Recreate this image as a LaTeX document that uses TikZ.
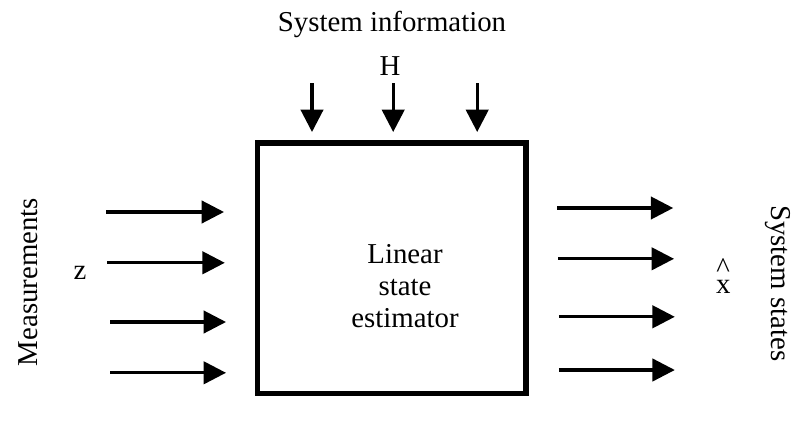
\documentclass[tikz,border=0pt]{standalone}
\usepackage{fontspec}
\setmainfont{Liberation Serif}
\usetikzlibrary{arrows.meta,positioning,calc}

\begin{document}
\begin{tikzpicture}[>={Triangle[length=0.56cm,width=0.56cm]},font=\fontsize{20.5}{24}\selectfont,
  flow/.style={->,line width=2.2pt}]
\useasboundingbox (0,0) rectangle (19.925,10.7);
\node[draw,line width=3.6pt,minimum width=6.72cm,minimum height=6.27cm] (est) at (9.79,3.99) {};
\node[align=center,text width=4cm] (lbl) at (10.125,3.55) {Linear\\[-1pt]state\\[-1pt]estimator};
% inputs from the top
\node (sysinfo) at (9.8,10.1) {System information};
\node (hh) at (9.75,9.05) {H};
\coordinate (t1) at (7.8,8.62);  \coordinate (t1e) at (7.8,7.4);
\coordinate (t2) at (9.83,8.62); \coordinate (t2e) at (9.83,7.4);
\coordinate (t3) at (11.93,8.62);\coordinate (t3e) at (11.93,7.4);
\draw[flow] (t1) -- (t1e); \draw[flow] (t2) -- (t2e); \draw[flow] (t3) -- (t3e);
% measurements on the left
\node[rotate=90] (meas) at (0.7,3.65) {Measurements};
\node (zz) at (2.0,3.88) {z};
\coordinate (m1) at (2.65,5.4);   \coordinate (m1e) at (5.6,5.4);
\coordinate (m2) at (2.68,4.13);  \coordinate (m2e) at (5.62,4.13);
\coordinate (m3) at (2.75,2.65);  \coordinate (m3e) at (5.65,2.65);
\coordinate (m4) at (2.75,1.38);  \coordinate (m4e) at (5.65,1.38);
\draw[flow] (m1) -- (m1e); \draw[flow] (m2) -- (m2e);
\draw[flow] (m3) -- (m3e); \draw[flow] (m4) -- (m4e);
% estimated states on the right
\coordinate (s1) at (13.93,5.5);  \coordinate (s1e) at (16.83,5.5);
\coordinate (s2) at (13.95,4.23); \coordinate (s2e) at (16.85,4.23);
\coordinate (s3) at (13.97,2.78); \coordinate (s3e) at (16.87,2.78);
\coordinate (s4) at (13.97,1.45); \coordinate (s4e) at (16.87,1.45);
\draw[flow] (s1) -- (s1e); \draw[flow] (s2) -- (s2e);
\draw[flow] (s3) -- (s3e); \draw[flow] (s4) -- (s4e);
\node (xhat) at (18.08,3.8) {\ooalign{\hidewidth\raisebox{0.55em}{\textasciicircum}\hidewidth\cr x}};
\node[rotate=-90] (states) at (19.45,3.62) {System states};
\end{tikzpicture}
\end{document}
